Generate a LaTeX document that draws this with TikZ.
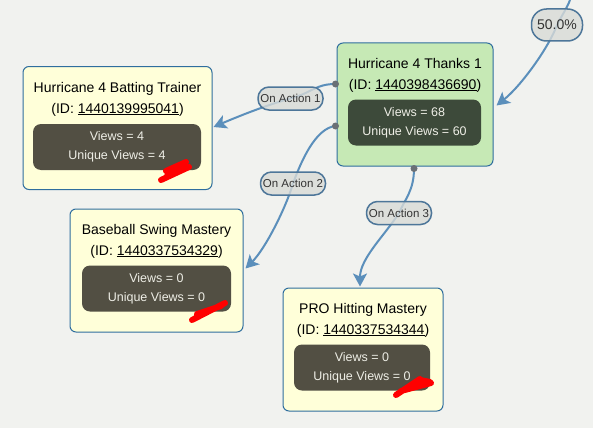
\documentclass[tikz,border=0pt]{standalone}
\usepackage{fontspec}
\setmainfont{Liberation Sans}
\usetikzlibrary{arrows.meta,calc}
\definecolor{bg}{HTML}{F1F2EF}
\definecolor{cardfill}{HTML}{FFFFD9}
\definecolor{cardgreen}{HTML}{C6E9B5}
\definecolor{cardline}{HTML}{2F6E9E}
\definecolor{statfill}{HTML}{524F43}
\definecolor{statgreen}{HTML}{3D4A3A}
\definecolor{stattext}{HTML}{EEEEE6}
\definecolor{linkblue}{HTML}{5B8FBB}
\definecolor{lblfill}{HTML}{D9DBD7}
\definecolor{lblline}{HTML}{4D7699}
\definecolor{dotgrey}{HTML}{6A7076}

\begin{document}
\begin{tikzpicture}[x=1pt, y=-1pt,
        card/.style={draw=cardline, fill=cardfill, line width=1pt,
                     rounded corners=6pt, inner sep=0pt, minimum height=123pt},
        title/.style={align=center, font=\fontsize{14}{21}\selectfont},
        stats/.style={fill=statfill, rounded corners=8pt, inner sep=0pt,
                      minimum height=46pt, align=center, text=stattext,
                      font=\fontsize{12.5}{19}\selectfont},
        link/.style={draw=linkblue, line width=2pt,
                     -{Stealth[length=13pt, width=14pt, inset=3pt]}},
        lbl/.style={draw=lblline, line width=1.5pt, fill=lblfill,
                    fill opacity=0.8, text opacity=1, text=black!80,
                    rounded corners=11pt, inner sep=0pt, minimum width=65pt,
                    minimum height=23pt, font=\fontsize{11.5}{13}\selectfont},
        scrib/.style={red, line width=6pt, line cap=round, line join=round},
      ]
        % canvas
        \fill[bg] (0,0) rectangle (593,428);
        \useasboundingbox (0,0) rectangle (593,428);

        % Hurricane 4 Batting Trainer
        \node[card, minimum width=189pt] (trainer) at (117.5,128) {};
        \node[title] (trainertitle) at (117.5,99)
          {Hurricane 4 Batting Trainer\\(ID: \underline{1440139995041})};
        \node[stats, minimum width=168pt] (trainerstats) at (117,147)
          {Views = 4\\Unique Views = 4};

        % Hurricane 4 Thanks 1
        \node[card, fill=cardgreen, minimum width=156pt] (thanks) at (415,104.5) {};
        \node[title] (thankstitle) at (415,75)
          {Hurricane 4 Thanks 1\\(ID: \underline{1440398436690})};
        \node[stats, fill=statgreen, minimum width=133pt] (thanksstats) at (414.5,122.5)
          {Views = 68\\Unique Views = 60};

        % Baseball Swing Mastery
        \node[card, minimum width=173pt] (swing) at (156.5,270.5) {};
        \node[title] (swingtitle) at (156.5,241)
          {Baseball Swing Mastery\\(ID: \underline{1440337534329})};
        \node[stats, minimum width=149pt] (swingstats) at (156.5,288.5)
          {Views = 0\\Unique Views = 0};

        % PRO Hitting Mastery
        \node[card, minimum width=160pt] (pro) at (363,349.5) {};
        \node[title] (protitle) at (363,320)
          {PRO Hitting Mastery\\(ID: \underline{1440337534344})};
        \node[stats, minimum width=136pt] (prostats) at (362,367.5)
          {Views = 0\\Unique Views = 0};

        % edge labels (placed first, drawn on top later)
        \coordinate (l1) at (290.5,98.5);
        \coordinate (l2) at (293,183.5);
        \coordinate (l3) at (399,213);
        \coordinate (l4) at (557,25);

        % ports
        \coordinate (t1) at ($(thanks.west)+(-1,-20.5)$);
        \coordinate (t2) at ($(thanks.west)+(-1,21.5)$);
        \coordinate (t3) at ($(thanks.south)+(-1,2)$);
        \coordinate (src) at (570,0);

        % links
        \draw[link] (t1) .. controls +(-20,0) and +(22,-6) .. (l1)
          .. controls +(-22,6) and +(28,-12) .. ($(trainer.east)+(1,-1)$);
        \draw[link] (t2) .. controls +(-20,2) and +(8,-22) .. (l2)
          .. controls +(-7,24) and +(20,-20) .. ($(swing.east)+(2,-2)$);
        \draw[link] (t3) .. controls +(0,22) and +(6,-14) .. (l3)
          .. controls +(-14,22) and +(0,-28) .. ($(pro.north)+(-3,-1)$);
        \draw[link] (src) .. controls +(-3,8) and +(5,-10) .. (l4)
          .. controls +(-8,22) and +(25,-20) .. ($(thanks.east)+(3,1)$);
        \fill[dotgrey] (t1) circle (3.5) (t2) circle (3.5) (t3) circle (3.5);

        \node[lbl] (act1) at (l1) {On Action 1};
        \node[lbl] (act2) at (l2) {On Action 2};
        \node[lbl] (act3) at (l3) {On Action 3};
        \node[lbl, minimum width=51pt, minimum height=32pt, rounded corners=15pt,
              font=\fontsize{14}{16}\selectfont] (share) at (l4) {50.0\%};

        % red scribbles
        \draw[scrib] (186,162) -- (166,171) (189,167) -- (161,180) (180,170) -- (166,177);
        \draw[scrib] (192,320) -- (225,303) (197,314) -- (221,306);
        \draw[scrib] (396,395) -- (420,379) (401,391) -- (431,383) (420,380) -- (430,382);
      \end{tikzpicture}
\end{document}
